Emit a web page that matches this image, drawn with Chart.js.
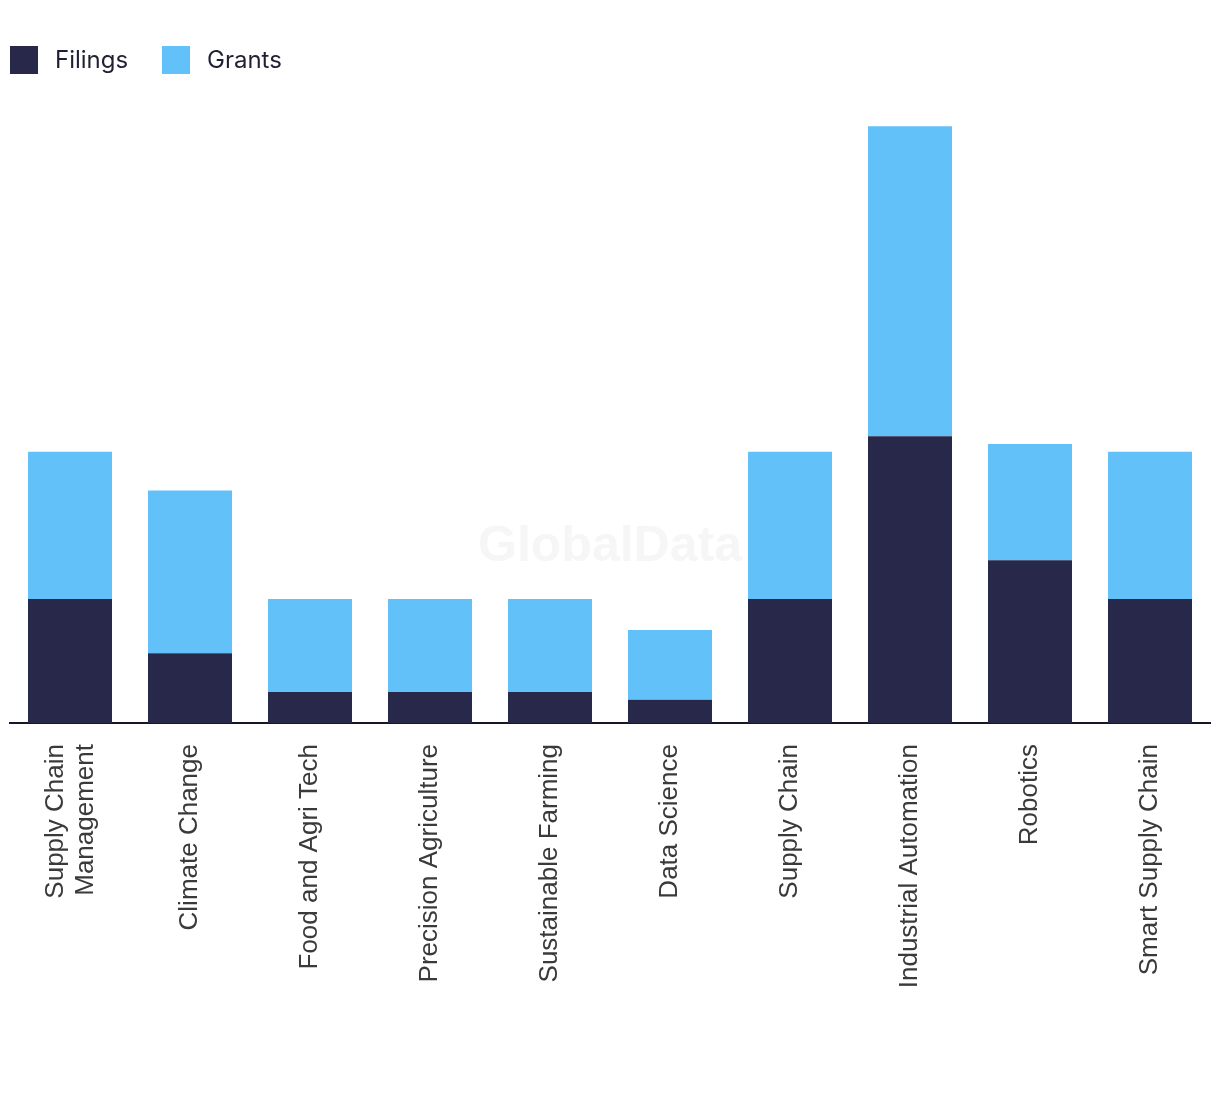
<!DOCTYPE html>
<html>
<head>
<meta charset="utf-8">
<script src="https://cdn.jsdelivr.net/npm/chart.js@4/dist/chart.umd.min.js"></script>
<style>
  body { margin: 0; background: #fff; }
  #wrap { position: relative; width: 1220px; height: 1094px; }
  #legend { position: absolute; top: 44px; left: 10px; display: flex; font-family: Inter, "Noto Sans", sans-serif; font-size: 24px; color: #1f2033; }
  .item { display: flex; align-items: center; }
  .box { width: 28px; height: 28px; margin-right: 17px; margin-top: 2px; }
</style>
</head>
<body>
<div id="wrap">
  <canvas id="chart" width="1220" height="1094"></canvas>
  <div id="legend"></div>
</div>
<script>
const categories = [
    ["Supply Chain", "Management"], "Climate Change", "Food and Agri Tech", "Precision Agriculture",
    "Sustainable Farming", "Data Science", "Supply Chain", "Industrial Automation", "Robotics", "Smart Supply Chain"
];
const filings = [16, 9, 4, 4, 4, 3, 16, 37, 21, 16];
const grants = [19, 21, 12, 12, 12, 9, 19, 40, 15, 19];

const darkColor = '#27284a';
const blueColor = '#63c1f9';
const labelSize = 26;
const labelLineHeight = 1.15;

const watermark = {
    id: 'watermark',
    beforeDraw(chart) {
        // nudge the two-line label so it sits centred on its bar
        chart.scales.x.getLabelItems().forEach(it => {
            if (Array.isArray(it.label) && !it._moved) {
                it.textOffset -= 14;
                it._moved = true;
            }
        });
    },
    beforeDatasetsDraw(chart) {
        const c = chart.ctx;
        c.save();
        c.font = 'bold 50px "Liberation Sans", Arial, sans-serif';
        c.fillStyle = '#f6f6f6';
        c.textAlign = 'center';
        c.textBaseline = 'middle';
        c.fillText('GlobalData', 610, 547);
        c.restore();
    }
};

const ctx = document.getElementById('chart').getContext('2d');
const chart = new Chart(ctx, {
    type: 'bar',
    data: {
        labels: categories,
        datasets: [
            { label: 'Filings', data: filings, backgroundColor: darkColor },
            { label: 'Grants', data: grants, backgroundColor: blueColor }
        ]
    },
    options: {
        responsive: false,
        animation: false,
        devicePixelRatio: 1,
        layout: { padding: { top: 103, left: 10, right: 10, bottom: 0 } },
        datasets: { bar: { barPercentage: 0.7, categoryPercentage: 1 } },
        plugins: { legend: { display: false }, tooltip: { enabled: false } },
        scales: {
            x: {
                stacked: true,
                grid: { display: false, drawTicks: false },
                border: { display: true, color: '#16162a', width: 2 },
                ticks: {
                    minRotation: 90, maxRotation: 90, padding: 21, autoSkip: false,
                    color: '#3a3a3a',
                    font: { family: '"Liberation Sans", Arial, sans-serif', size: labelSize, lineHeight: labelLineHeight }
                },
                afterFit(scale) { scale.height = 371; }
            },
            y: { stacked: true, display: false, min: 0, max: 80 }
        }
    },
    plugins: [watermark]
});

const legendEl = document.getElementById('legend');
chart.data.datasets.forEach((ds, i) => {
    const item = document.createElement('div');
    item.className = 'item';
    if (i > 0) { item.style.position = 'absolute'; item.style.left = '152px'; }
    item.innerHTML = `<span class="box" style="background:${ds.backgroundColor}"></span><span>${ds.label}</span>`;
    legendEl.appendChild(item);
});
</script>
</body>
</html>
